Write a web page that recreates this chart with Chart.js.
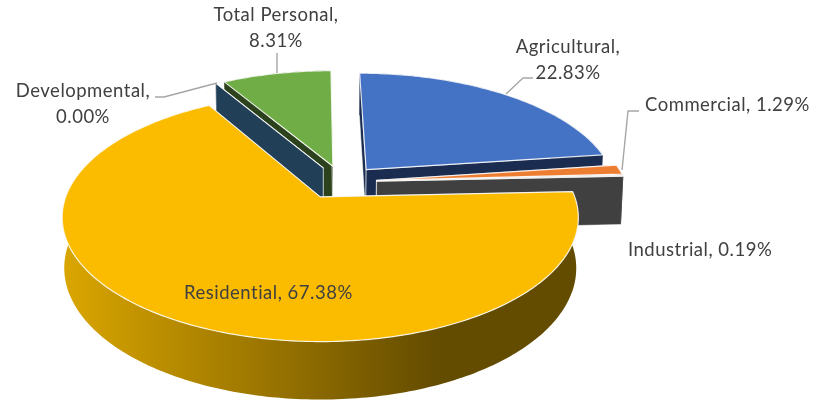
<!DOCTYPE html>
<html>
<head>
<meta charset="utf-8">
<style>
  html, body { margin: 0; padding: 0; background: #fff; }
  canvas { display: block; }
</style>
<script src="https://cdn.jsdelivr.net/npm/chart.js@4"></script>
</head>
<body>
<canvas id="pie" width="817" height="403" style="width:817px;height:403px"></canvas>
<script>
// data
const categories = ['Agricultural', 'Commercial', 'Industrial', 'Residential', 'Developmental', 'Total Personal'];
const shares     = [22.83, 1.29, 0.19, 67.38, 0.00, 8.31];

// colours
const topColors  = ['#4472C4', '#ED7D31', '#A5A5A5', '#FBBC00', '#264478', '#70AD47'];
const wallColors = ['#1A2D50', '#7F3F10', '#404040', '#5F4700', '#223F58', '#2B421C'];
const rimLeft    = ['#1A2D50', '#7F3F10', '#404040', '#D9A500', '#223F58', '#2B421C'];
const rimRight   = ['#1A2D50', '#7F3F10', '#404040', '#634B00', '#223F58', '#2B421C'];

// label text rows: [slice, x, y, align, split on two lines]
const labelSpots = [
  [0, 568, 47, 'center', true],
  [1, 645, 105, 'left', false],
  [2, 628, 250, 'left', false],
  [3, 184, 293, 'left', false],
  [4, 83, 91, 'center', true],
  [5, 276, 15, 'center', true]
];
const leaders = [
  [[506, 94], [523, 78], [533, 78]],
  [[622, 170], [628, 111], [639, 111]],
  [[155, 97], [164, 97], [217, 83]],
  [[277, 73], [277, 53]]
];

// fake 3d camera, fitted by eye to the picture
const cam = { ox: 319, oy: 198, F: 1351, D: 5.3, sin: 0.475, cos: 0.88, sx: 0.074, sy: 0.135, depth: 0.223, wallPersp: 0.4 };
// everything but Residential sits a little further right in the original
const sideShift = [0.024, 0.014, 0.014, 0, 0.015, 0.02];

function project(X, Y, Z) {
  const px = X + cam.sx, py = Y + cam.sy;
  const yv = py * cam.sin + Z * cam.cos;
  const zv = py * cam.cos - Z * cam.sin * cam.wallPersp + cam.D;
  return [cam.ox + cam.F * px / zv, cam.oy - cam.F * yv / zv];
}

function tracePoly(ctx, pts) {
  ctx.beginPath();
  pts.forEach((p, i) => i ? ctx.lineTo(p[0], p[1]) : ctx.moveTo(p[0], p[1]));
  ctx.closePath();
}

function sliceGeometry(arc, shift) {
  const R = arc.outerRadius;
  const mid = (arc.startAngle + arc.endAngle) / 2;
  const e = arc.options.offset / R;
  const ax = Math.cos(mid) * e + shift, ay = -Math.sin(mid) * e;
  const steps = Math.max(2, Math.ceil((arc.endAngle - arc.startAngle) * 60));
  const rim = [];
  for (let i = 0; i <= steps; i++) {
    const a = arc.startAngle + (arc.endAngle - arc.startAngle) * i / steps;
    rim.push([ax + Math.cos(a), ay - Math.sin(a)]);
  }
  return { ax, ay, rim };
}

const pie3d = {
  id: 'pie3d',
  // the library's flat arcs are replaced by the tilted ones below
  beforeDatasetDraw() { return false; },
  afterDatasetsDraw(chart) {
    const ctx = chart.ctx;
    const meta = chart.getDatasetMeta(0);
    const h = -cam.depth;
    const order = meta.data.map((arc, i) => ({ i, g: sliceGeometry(arc, sideShift[i]) }))
      .sort((a, b) => b.g.ay - a.g.ay);

    order.forEach(({ i, g }) => {
      const apexT = project(g.ax, g.ay, 0), apexB = project(g.ax, g.ay, h);
      const first = g.rim[0], last = g.rim[g.rim.length - 1];

      // radial cut walls
      [first, last].forEach(p => {
        tracePoly(ctx, [apexT, project(p[0], p[1], 0), project(p[0], p[1], h), apexB]);
        ctx.fillStyle = wallColors[i];
        ctx.fill();
        ctx.strokeStyle = 'rgba(255,255,255,0.55)';
        ctx.lineWidth = 1;
        ctx.stroke();
      });

      // outer rim
      const grad = ctx.createLinearGradient(66, 0, 440, 0);
      grad.addColorStop(0, rimLeft[i]);
      grad.addColorStop(1, rimRight[i]);
      const upper = g.rim.map(p => project(p[0], p[1], 0));
      const lower = g.rim.map(p => project(p[0], p[1], h)).reverse();
      tracePoly(ctx, upper.concat(lower));
      ctx.fillStyle = grad;
      ctx.fill();

      // top face
      tracePoly(ctx, [apexT].concat(upper));
      ctx.fillStyle = topColors[i];
      ctx.fill();
      ctx.strokeStyle = 'rgba(255,255,255,0.85)';
      ctx.lineWidth = 1.2;
      ctx.lineJoin = 'round';
      ctx.stroke();
    });

    // leader lines
    ctx.strokeStyle = '#A6A6A6';
    ctx.lineWidth = 1.4;
    leaders.forEach(line => {
      ctx.beginPath();
      line.forEach((p, n) => n ? ctx.lineTo(p[0], p[1]) : ctx.moveTo(p[0], p[1]));
      ctx.stroke();
    });

    // data labels
    ctx.fillStyle = '#404040';
    ctx.font = '18.5px Lato';
    ctx.letterSpacing = '0.5px';
    ctx.textBaseline = 'middle';
    labelSpots.forEach(([i, x, y, align, twoLines]) => {
      const pct = shares[i].toFixed(2) + '%';
      ctx.textAlign = align;
      if (twoLines) {
        ctx.fillText(categories[i] + ',', x, y);
        ctx.fillText(pct, x, y + 26);
      } else {
        ctx.fillText(categories[i] + ', ' + pct, x, y);
      }
    });
  }
};

new Chart(document.getElementById('pie'), {
  type: 'pie',
  data: {
    labels: categories,
    datasets: [{
      data: shares,
      backgroundColor: topColors,
      borderWidth: 0,
      offset: 27
    }]
  },
  options: {
    responsive: false,
    animation: false,
    devicePixelRatio: 1,
    plugins: { legend: { display: false }, tooltip: { enabled: false } }
  },
  plugins: [pie3d]
});
</script>
</body>
</html>
